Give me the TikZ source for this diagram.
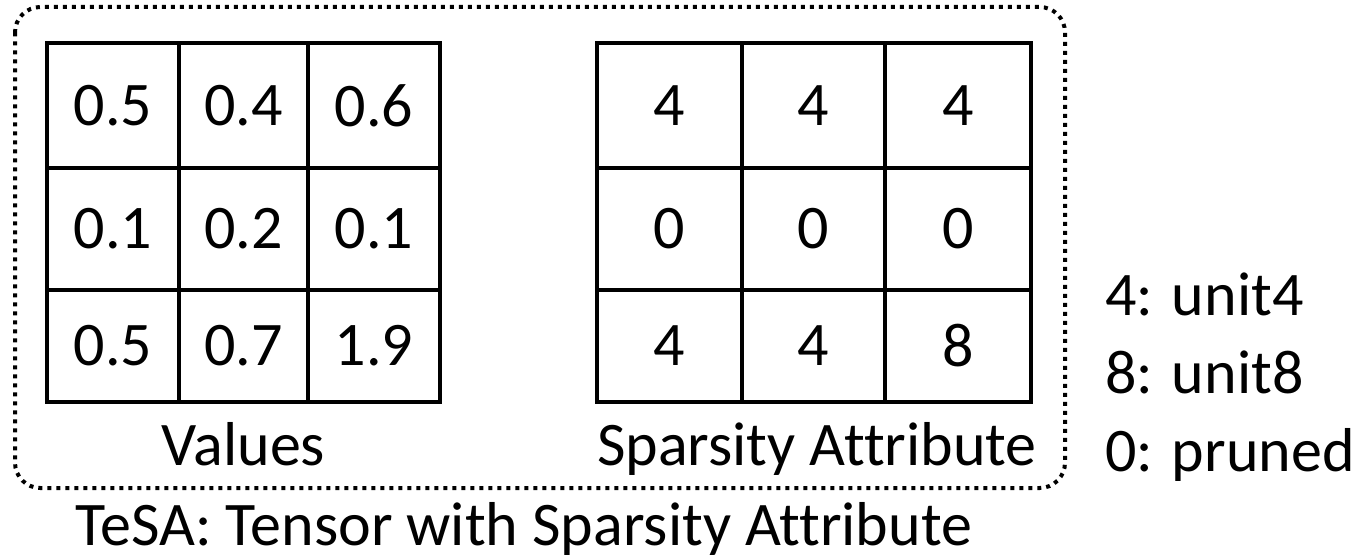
\documentclass[tikz,border=0pt]{standalone}
\usepackage{fontspec}
\setmainfont[Ligatures=NoCommon]{Carlito}
\begin{document}
\begin{tikzpicture}[x=0.75pt,y=-0.75pt,
  lbl/.style={font=\fontsize{46.5}{56}\selectfont, inner sep=0pt},
  gridouter/.style={line width=3pt},
  gridinner/.style={line width=2.5pt},
  tesabox/.style={line width=3pt, dash pattern=on 3pt off 3.75pt, rounded corners=19pt}]
\useasboundingbox (0,0) rectangle (1361,560);
% dotted container
\draw[tesabox] (15,7) rectangle (1065,488);
% left grid (values)
\draw[gridinner] (179,43) -- (179,402) (308,43) -- (308,402)
                 (47,168) -- (440,168) (47,290) -- (440,290);
\draw[gridouter] (47,43) rectangle (440,402);
% right grid (sparsity attribute)
\draw[gridinner] (742,43) -- (742,402) (885,43) -- (885,402)
                 (597,168) -- (1031,168) (597,290) -- (1031,290);
\draw[gridouter] (597,43) rectangle (1031,402);
% values
\node[lbl] (v11) at (113,105.5) {0.5};
\node[lbl] (v12) at (243.5,105.5) {0.4};
\node[lbl] (v13) at (374,105.5) {0.6};
\node[lbl] (v21) at (113,229) {0.1};
\node[lbl] (v22) at (243.5,229) {0.2};
\node[lbl] (v23) at (374,229) {0.1};
\node[lbl] (v31) at (113,346) {0.5};
\node[lbl] (v32) at (243.5,346) {0.7};
\node[lbl] (v33) at (374,346) {1.9};
% sparsity attributes
\node[lbl] (s11) at (669.5,105.5) {4};
\node[lbl] (s12) at (813.5,105.5) {4};
\node[lbl] (s13) at (958,105.5) {4};
\node[lbl] (s21) at (669.5,229) {0};
\node[lbl] (s22) at (813.5,229) {0};
\node[lbl] (s23) at (958,229) {0};
\node[lbl] (s31) at (669.5,346) {4};
\node[lbl] (s32) at (813.5,346) {4};
\node[lbl] (s33) at (958,346) {8};
% captions
\node[lbl, anchor=base] (valcap) at (243.5,465) {Values};
\node[lbl, anchor=base] (spcap) at (817,465) {Sparsity Attribute};
\node[lbl, anchor=base] (tesacap) at (524,545) {TeSA: Tensor with Sparsity Attribute};
% legend
\node[lbl, anchor=base west] (leg4) at (1105,315) {4: unit4};
\node[lbl, anchor=base west] (leg8) at (1105,393) {8: unit8};
\node[lbl, anchor=base west] (leg0) at (1105,471) {0: pruned};
\end{tikzpicture}
\end{document}
